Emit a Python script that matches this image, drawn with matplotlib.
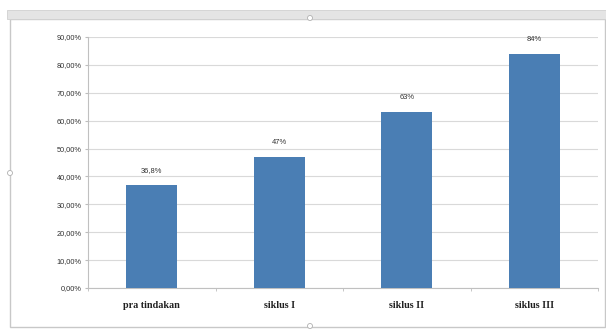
import matplotlib
matplotlib.use("Agg")
import matplotlib.pyplot as plt
from matplotlib.patches import Rectangle, Ellipse

categories = ["pra tindakan", "siklus I", "siklus II", "siklus III"]
values = [36.8, 47, 63, 84]
value_labels = ["36,8%", "47%", "63%", "84%"]
yticks = [0, 10, 20, 30, 40, 50, 60, 70, 80, 90]
ytick_labels = ["0,00%", "10,00%", "20,00%", "30,00%", "40,00%", "50,00%",
                "60,00%", "70,00%", "80,00%", "90,00%"]

W, H = 606, 329
fig = plt.figure(figsize=(W / 100, H / 100), dpi=100)
fig.patch.set_facecolor("white")

# outer chart frame
fig.patches.append(Rectangle((10 / W, 2 / H), 595 / W, 308 / H, transform=fig.transFigure,
                             facecolor="white", edgecolor="#c8c8c8", lw=1.0, zorder=-2))
fig.patches.append(Rectangle((7 / W, 310 / H), 599 / W, 9 / H, transform=fig.transFigure,
                             facecolor="#e4e4e4", edgecolor="#d0d0d0", lw=0.6, zorder=-1))
for (hx, hy) in [(310, 311), (10, 156), (310, 3)]:
    fig.patches.append(Ellipse((hx / W, hy / H), 5 / W, 5 / H, transform=fig.transFigure,
                               facecolor="white", edgecolor="#b0b0b0", lw=0.6, zorder=-1))

ax = fig.add_axes([88 / W, 41 / H, 510 / W, 251 / H])
ax.set_zorder(5)
ax.set_facecolor("none")
x = list(range(len(categories)))
bars = ax.bar(x, values, width=0.4, color="#4A7EB4", zorder=3)
for xi, v, lab in zip(x, values, value_labels):
    ax.text(xi, v + 4.0, lab, ha="center", va="bottom", fontsize=5.4,
            family="Liberation Sans", color="#303030")

ax.set_xlim(-0.5, len(categories) - 0.5)
ax.set_ylim(0, 90)
ax.set_yticks(yticks)
ax.set_yticklabels(ytick_labels, fontsize=5.3, family="Liberation Sans", color="#303030")
ax.set_xticks(x)
ax.set_xticklabels(categories, fontsize=7.3, family="Liberation Serif", fontweight="bold",
                   color="#202020")
ax.set_xticks([i + 0.5 for i in range(-1, len(categories))], minor=True)
ax.tick_params(axis="x", which="major", length=0, pad=9)
ax.tick_params(axis="x", which="minor", length=2.5, color="#bdbdbd")
ax.tick_params(axis="y", length=2.5, color="#bdbdbd", pad=2)
ax.grid(axis="y", color="#d9d9d9", lw=0.8, zorder=0)
for s in ["top", "right"]:
    ax.spines[s].set_visible(False)
for s in ["left", "bottom"]:
    ax.spines[s].set_color("#c0c0c0")
    ax.spines[s].set_linewidth(0.8)

fig.savefig("out.png", dpi=100)
